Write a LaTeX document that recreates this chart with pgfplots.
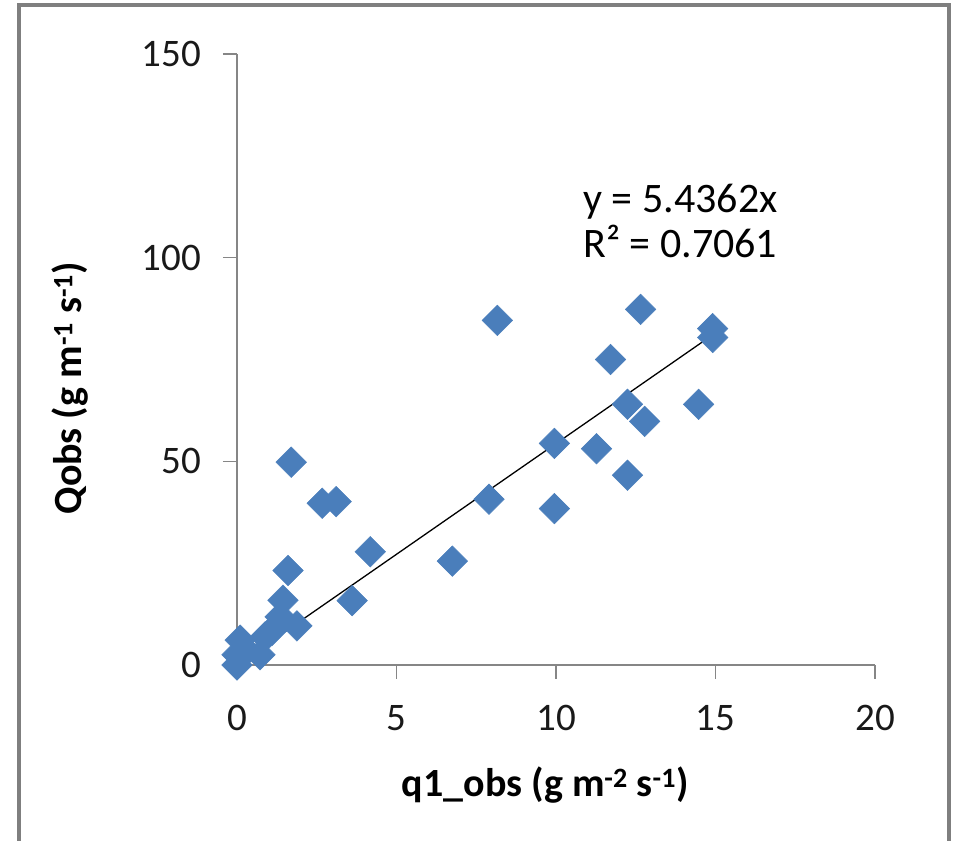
\documentclass[border=0pt]{standalone}
\usepackage{pgfplots}
\pgfplotsset{compat=1.18}
\usepackage{fontspec}
\setmainfont{Carlito}
\definecolor{ptblue}{HTML}{4A7EBB}
\definecolor{axgray}{HTML}{868686}
\definecolor{bordergray}{HTML}{7F7F7F}
\begin{document}
\begin{tikzpicture}
\useasboundingbox (0,0) rectangle (954bp,841bp);
\draw[bordergray, line width=4bp] (19bp,0) -- (19bp,836bp) -- (949bp,836bp) -- (949bp,0);
\begin{axis}[
  at={(237bp,176bp)}, anchor=south west,
  scale only axis, width=638bp, height=611bp,
  xmin=0, xmax=20, ymin=0, ymax=150,
  axis lines*=left,
  axis line style={axgray, line width=1.5bp},
  tick style={axgray, line width=1.5bp},
  tick align=outside, major tick length=14bp,
  xtick={0,5,10,15,20}, ytick={0,50,100,150},
  /pgf/number format/assume math mode=true,
  ticklabel style={font=\fontsize{39bp}{40bp}\selectfont, text=black!90, inner sep=0pt},
  yticklabel style={anchor=east, xshift=-22bp},
  xticklabel style={anchor=north, yshift=-26bp},
  xlabel={q1\_obs (g m\textsuperscript{-2} s\textsuperscript{-1})},
  ylabel={Qobs (g m\textsuperscript{-1} s\textsuperscript{-1})},
  label style={font=\bfseries\fontsize{40bp}{44bp}\selectfont, inner sep=0pt},
  xlabel style={at={(axis description cs:0.483,-0.196)}, anchor=center},
  ylabel style={at={(axis description cs:-0.262,0.453)}, anchor=center, rotate=0},
  clip=false,
]
\addplot[only marks, mark=square*, mark size=10.8bp,
  mark options={rotate=45, fill=ptblue, draw=ptblue, line width=0.5bp}]
  coordinates {
  (0,0) (0,2.5) (0.1,6.1) (0.3,3.5) (0.72,2.5) (0.88,6.9) (1.1,8.5)
  (1.35,11.8) (1.88,9.6) (1.44,15.9) (1.6,23.2) (1.7,49.8)
  (2.67,39.7) (3.11,40.1) (3.61,15.8) (4.18,27.8) (6.75,25.5)
  (7.9,40.7) (8.16,84.6) (9.95,54.4) (9.95,38.4) (11.27,53.1)
  (11.71,75.0) (12.24,64.0) (12.24,46.6) (12.65,87.3) (12.78,59.8)
  (14.47,64.0) (14.91,82.6) (14.91,80.4)
  };
\addplot[black, line width=1.3bp] coordinates {(0,0) (14.91,81.05)};
\node[anchor=base west, inner sep=0pt, font=\fontsize{42bp}{44bp}\selectfont] at (axis cs:10.85,111) {y = 5.4362x};
\node[anchor=base west, inner sep=0pt, font=\fontsize{42bp}{44bp}\selectfont] at (axis cs:10.85,100) {R² = 0.7061};
\end{axis}
\end{tikzpicture}
\end{document}
